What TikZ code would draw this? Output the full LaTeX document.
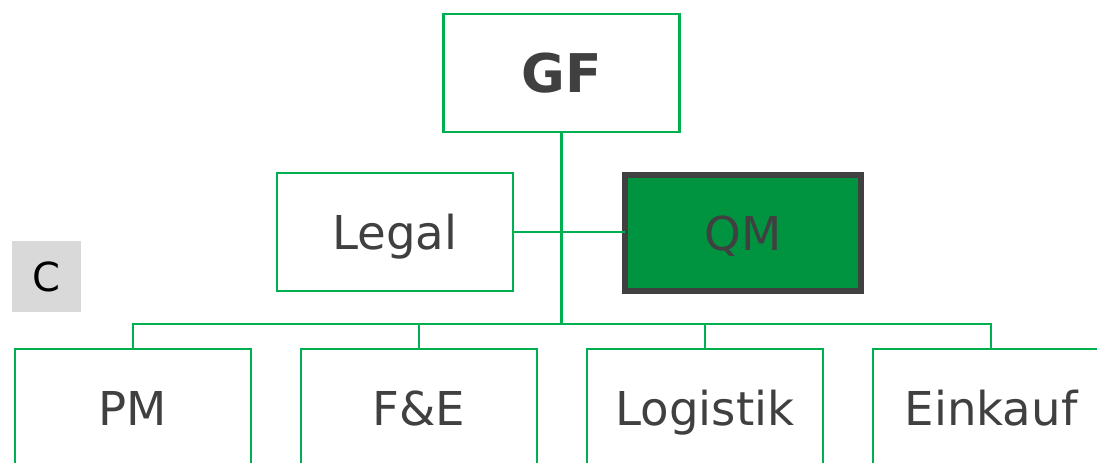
\documentclass[tikz,border=0pt]{standalone}
\usepackage{fontspec}
\setmainfont{DejaVu Sans}
\definecolor{linegreen}{HTML}{00B050}
\definecolor{qmgreen}{HTML}{009440}
\definecolor{textgray}{HTML}{404040}
\definecolor{tagfill}{HTML}{D9D9D9}
\begin{document}
\begin{tikzpicture}[x=0.75pt,y=-0.75pt,
  unit/.style={draw=linegreen, line width=2pt, fill=white, inner sep=0pt, outer sep=0pt,
    minimum width=177pt, minimum height=88.5pt, text=textgray,
    text height=25.5pt, text depth=0pt, font=\fontsize{35}{40}\selectfont},
  qmbox/.style={unit, draw=textgray, line width=3.8pt, fill=qmgreen, minimum width=177pt, minimum height=87pt},
  tag/.style={fill=tagfill, inner sep=0pt, minimum width=51.75pt, minimum height=53.25pt,
    text height=21.9pt, text depth=0pt, text=black, font=\fontsize{30}{34}\selectfont},
  link/.style={draw=linegreen, line width=2pt}]
\useasboundingbox (0,0) rectangle (1097,462);
\clip (0,0) rectangle (1097,462);
% top management and staff units
\node[unit, text height=29.2pt, font=\fontsize{40}{44}\selectfont\bfseries] (gf) at (561.5,73) {GF};
\node[unit] (legal) at (395,232) {Legal};
\node[qmbox] (qm) at (743,233) {QM};
\node[tag] (c) at (46.5,276.5) {C};
% departments
\node[unit] (pm) at (133,408) {PM};
\node[unit] (fe) at (419,408) {F\&E};
\node[unit] (log) at (705,408) {Logistik};
\node[unit] (ek) at (991,408) {Einkauf};
% connectors
\coordinate (bus) at (561.5,324);
\draw[link] (gf.south) -- (bus);
\draw[link] (legal.east) -- (legal.east -| qm.west);
\draw[link] (pm.north) |- (bus) -| (ek.north);
\draw[link] (fe.north) -- (fe.north |- bus);
\draw[link] (log.north) -- (log.north |- bus);
\end{tikzpicture}
\end{document}
